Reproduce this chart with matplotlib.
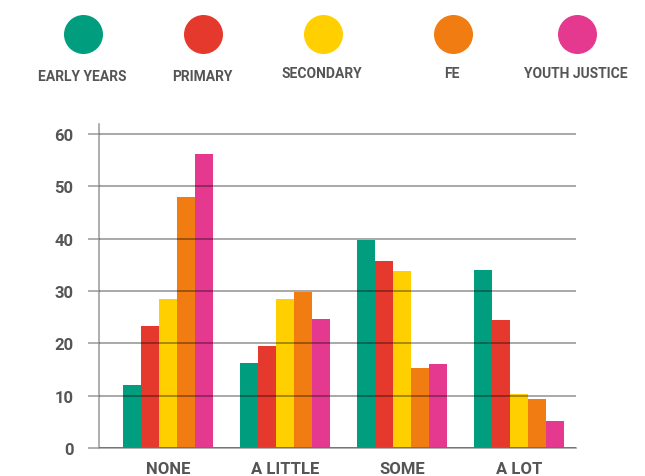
import numpy as np
import matplotlib
matplotlib.use("Agg")
import matplotlib.pyplot as plt

categories = ["NONE", "A LITTLE", "SOME", "A LOT"]
series_names = ["EARLY YEARS", "PRIMARY", "SECONDARY", "FE", "YOUTH JUSTICE"]
early_years = [12.1, 16.3, 39.7, 34.0]
primary = [23.3, 19.5, 35.7, 24.5]
secondary = [28.5, 28.5, 33.8, 10.4]
fe = [48.0, 29.8, 15.3, 9.4]
youth_justice = [56.2, 24.7, 16.1, 5.2]
yticks = [0, 10, 20, 30, 40, 50, 60]

series = [early_years, primary, secondary, fe, youth_justice]
colors = ["#009D7F", "#E5392E", "#FFCF00", "#F07C12", "#E5398F"]
text_color = "#555555"
font = "Roboto"

fig = plt.figure(figsize=(6.45, 4.77), dpi=100)
ax = fig.add_axes([99.3 / 645, 27.7 / 477, (575.7 - 99.3) / 645, (449.3 - 125) / 477])

x = np.arange(len(categories))
bw = 0.154
n = len(series)
for i, (vals, c) in enumerate(zip(series, colors)):
    ax.bar(x + (i - (n - 1) / 2) * bw, vals, width=bw, color=c, zorder=2, linewidth=0)

ax.set_xlim(-0.592, 3.485)
ax.set_ylim(0, 61.85)
ax.set_yticks(yticks)
ax.set_yticklabels([str(v) for v in yticks], fontfamily=font, fontweight="bold",
                   fontsize=12, color=text_color)
ax.set_xticks(x)
ax.set_xticklabels(categories, fontfamily=font, fontweight="bold", fontsize=12,
                   color=text_color)
ax.tick_params(axis="y", length=8, width=1.1, color="#999999", pad=10.5)
ax.tick_params(axis="x", length=0, pad=9)
ax.yaxis.grid(True, color="black", alpha=0.4, linewidth=1.2, zorder=3)
ax.set_axisbelow(False)
for side in ["top", "right"]:
    ax.spines[side].set_visible(False)
ax.spines["left"].set_color("#999999")
ax.spines["left"].set_linewidth(1.1)
ax.spines["bottom"].set_color("#aaaaaa")
ax.spines["bottom"].set_linewidth(1.3)
ax.spines["left"].set_zorder(1)

# legend overlay
lax = fig.add_axes([0, 0, 1, 1], facecolor="none")
lax.set_xlim(0, 645)
lax.set_ylim(477, 0)
lax.axis("off")
lx = [83, 203, 323, 453, 577]
ly_text = [77, 77, 74, 74, 74]
for i, (name, c) in enumerate(zip(series_names, colors)):
    lax.scatter([lx[i]], [35], s=(39 * 0.72) ** 2, color=c, linewidths=0)
    lax.text(lx[i] - 1, ly_text[i], name, ha="center", va="center", fontfamily=font,
             fontweight="bold", fontsize=10, color=text_color)

fig.savefig("out.png", dpi=100)
